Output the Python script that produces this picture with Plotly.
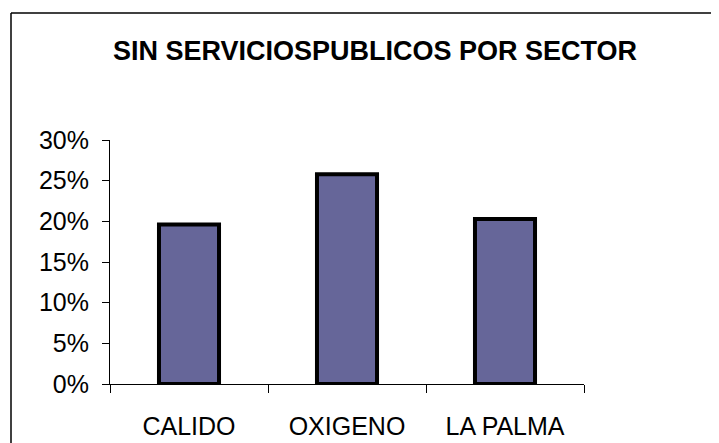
import plotly.graph_objects as go

categories = ["CALIDO", "OXIGENO", "LA PALMA"]
values = [0.196, 0.258, 0.203]
y_ticks = [0, 0.05, 0.10, 0.15, 0.20, 0.25, 0.30]
y_tick_labels = ["0%", "5%", "10%", "15%", "20%", "25%", "30%"]
title_text = "SIN SERVICIOSPUBLICOS POR SECTOR"

W, H = 719, 443
OFF = 8  # page body margin offset
L, R, T, B = 110 - OFF, 135 + OFF, 140 - OFF, 59 + OFF
pw, ph = W - L - R, H - T - B

def px_x(x):
    return (x - OFF - L) / pw

def px_y(y):
    return (H - B - (y - OFF)) / ph

fig = go.Figure(go.Bar(
    x=categories, y=values,
    marker=dict(color="#666699", line=dict(color="black", width=4)),
    width=0.38,
))

fig.update_layout(
    width=W, height=H,
    margin=dict(l=L, r=R, t=T, b=B, pad=0),
    paper_bgcolor="white", plot_bgcolor="white",
    showlegend=False,
    font=dict(family="Liberation Sans, Arial, sans-serif", color="black", size=25),
    annotations=[dict(
        text="<b>" + title_text + "</b>",
        xref="paper", yref="paper",
        x=px_x(375), y=px_y(51), xanchor="center", yanchor="middle",
        showarrow=False, font=dict(size=27, color="black"),
    )],
    shapes=[
        dict(type="line", xref="paper", yref="paper",
             x0=px_x(11), x1=px_x(11), y0=px_y(13), y1=px_y(470),
             line=dict(color="black", width=1.5)),
        dict(type="line", xref="paper", yref="paper",
             x0=px_x(11), x1=px_x(760), y0=px_y(13), y1=px_y(13),
             line=dict(color="black", width=1.5)),
    ],
)

fig.update_xaxes(
    showline=True, linecolor="black", linewidth=1,
    ticks="outside", ticklen=8, tickcolor="black", tickwidth=1,
    tickson="boundaries", showgrid=False, zeroline=False,
    ticklabelstandoff=20,
)
fig.update_yaxes(
    range=[0, 0.30], tickvals=y_ticks, ticktext=y_tick_labels,
    showline=True, linecolor="black", linewidth=1,
    ticks="outside", ticklen=7, tickcolor="black", tickwidth=1,
    showgrid=False, zeroline=False,
    ticklabelstandoff=8,
)

fig.write_html("out.html")
